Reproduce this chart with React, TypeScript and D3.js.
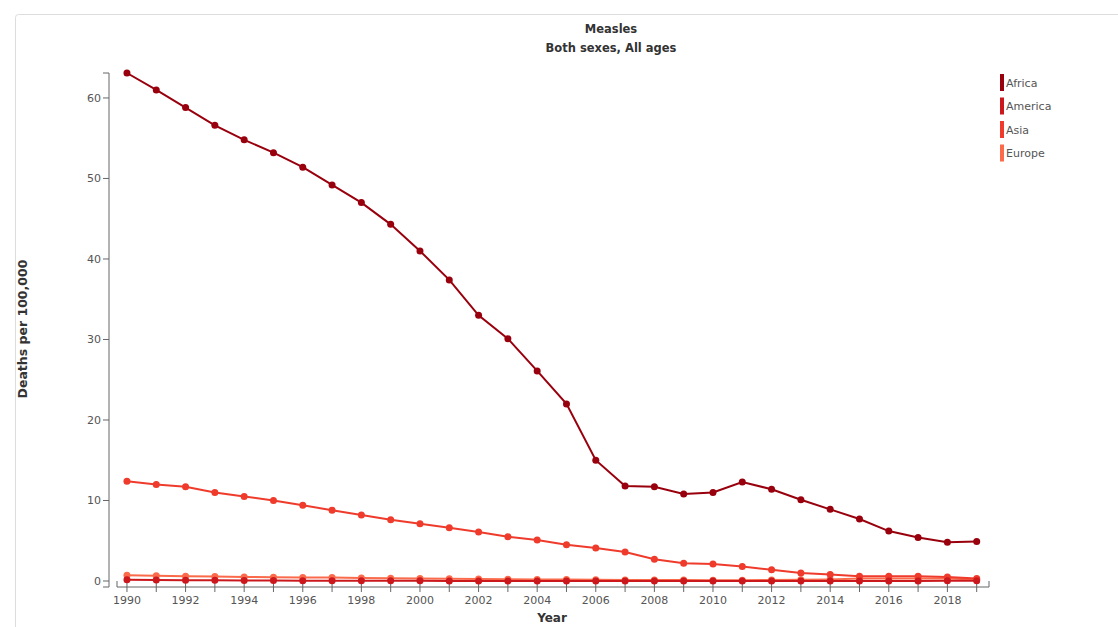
import React, { useEffect } from "react";
import * as d3 from "d3";

const years: number[] = d3.range(1990, 2020);
const seriesNames: string[] = ["Africa", "America", "Asia", "Europe"];
const colors: string[] = ["#99000d", "#cb181d", "#ef3b2c", "#fb6a4a"];

const africa: number[] = [63.1, 61.0, 58.8, 56.6, 54.8, 53.2, 51.4, 49.2, 47.0, 44.3, 41.0, 37.4, 33.0, 30.1, 26.1, 22.0, 15.0, 11.8, 11.7, 10.8, 11.0, 12.3, 11.4, 10.1, 8.9, 7.7, 6.2, 5.4, 4.8, 4.9];
const america: number[] = [0.15, 0.12, 0.1, 0.08, 0.06, 0.05, 0.04, 0.03, 0.03, 0.02, 0.02, 0.01, 0.01, 0.01, 0.01, 0.01, 0.01, 0.01, 0.01, 0.01, 0.01, 0.01, 0.01, 0.01, 0.01, 0.01, 0.01, 0.01, 0.02, 0.02];
const asia: number[] = [12.4, 12.0, 11.7, 11.0, 10.5, 10.0, 9.4, 8.8, 8.2, 7.6, 7.1, 6.6, 6.1, 5.5, 5.1, 4.5, 4.1, 3.6, 2.7, 2.2, 2.1, 1.8, 1.4, 1.0, 0.8, 0.6, 0.6, 0.6, 0.5, 0.3];
const europe: number[] = [0.7, 0.65, 0.6, 0.55, 0.5, 0.48, 0.45, 0.42, 0.38, 0.35, 0.32, 0.28, 0.25, 0.22, 0.2, 0.18, 0.15, 0.13, 0.12, 0.11, 0.1, 0.1, 0.12, 0.15, 0.2, 0.3, 0.3, 0.3, 0.3, 0.2];
const allSeries: number[][] = [africa, america, asia, europe];

const yTicks: number[] = [0, 10, 20, 30, 40, 50, 60];
const xTicks: number[] = d3.range(1990, 2019, 2);

const title1 = "Measles";
const title2 = "Both sexes, All ages";
const yLabel = "Deaths per 100,000";
const xLabel = "Year";

export default function App() {
  useEffect(() => {
    document.body.style.margin = "0";
  }, []);

  const W = 1118, H = 627;
  const axisY = 587;
  const yAxisX = 109;
  const x = d3.scaleLinear().domain([1989.66, 2019.42]).range([117, 989]);
  const y = d3.scaleLinear().domain([0, d3.max(africa) as number]).range([581, 73]);
  const line = d3.line<number>().x((_, i) => x(years[i])).y((v) => y(v));
  const tickFont = "DejaVu Sans, Verdana, sans-serif";
  const gray = "#666";

  const order = [3, 2, 1, 0];

  return (
    <svg width={W} height={H} style={{ display: "block" }}>
      <rect x={15.5} y={14.5} width={W} height={H} fill="#fff" stroke="#ddd" rx={3} />
      <text x={611} y={33} textAnchor="middle" fontFamily="DejaVu Sans, sans-serif" fontWeight="bold" fontSize={11.5} fill="#333">{title1}</text>
      <text x={611} y={52} textAnchor="middle" fontFamily="DejaVu Sans, sans-serif" fontWeight="bold" fontSize={11.5} fill="#333">{title2}</text>

      {/* Y axis */}
      <path d={`M${yAxisX - 6},${y.range()[1]}H${yAxisX}V${axisY}H${yAxisX - 6}`} fill="none" stroke={gray} strokeWidth={1} />
      {yTicks.map((t) => (
        <g key={t} transform={`translate(0,${y(t)})`}>
          <line x1={yAxisX - 6} x2={yAxisX} stroke={gray} />
          <text x={yAxisX - 8} dy="0.35em" textAnchor="end" fontFamily={tickFont} fontSize={11} fill="#555">{t}</text>
        </g>
      ))}
      <text transform={`translate(27,329) rotate(-90)`} textAnchor="middle" fontFamily={tickFont} fontWeight="bold" fontSize={12.5} fill="#333">{yLabel}</text>

      {/* X axis */}
      <path d={`M${x.range()[0]},${axisY - 6}V${axisY}H${x.range()[1]}V${axisY - 6}`} fill="none" stroke={gray} />
      {years.map((yr) => (
        <line key={yr} x1={x(yr)} x2={x(yr)} y1={axisY - 5} y2={axisY + 5} stroke={gray} />
      ))}
      {xTicks.map((t) => (
        <text key={t} x={x(t)} y={axisY + 17} textAnchor="middle" fontFamily={tickFont} fontSize={11} fill="#555">{t}</text>
      ))}
      <text x={552} y={622} textAnchor="middle" fontFamily={tickFont} fontWeight="bold" fontSize={12} fill="#333">{xLabel}</text>

      {/* Series */}
      {order.map((si) => (
        <g key={si}>
          <path d={line(allSeries[si]) || ""} fill="none" stroke={colors[si]} strokeWidth={2} />
          {allSeries[si].map((v, i) => (
            <circle key={i} cx={x(years[i])} cy={y(v)} r={3.5} fill={colors[si]} />
          ))}
        </g>
      ))}

      {/* Legend */}
      {seriesNames.map((n, i) => (
        <g key={n} transform={`translate(1000,${74 + i * 23.5})`}>
          <rect x={0} y={0} width={4} height={17} fill={colors[i]} />
          <text x={6} y={12.5} fontFamily={tickFont} fontSize={11} fill="#555">{n}</text>
        </g>
      ))}
    </svg>
  );
}
